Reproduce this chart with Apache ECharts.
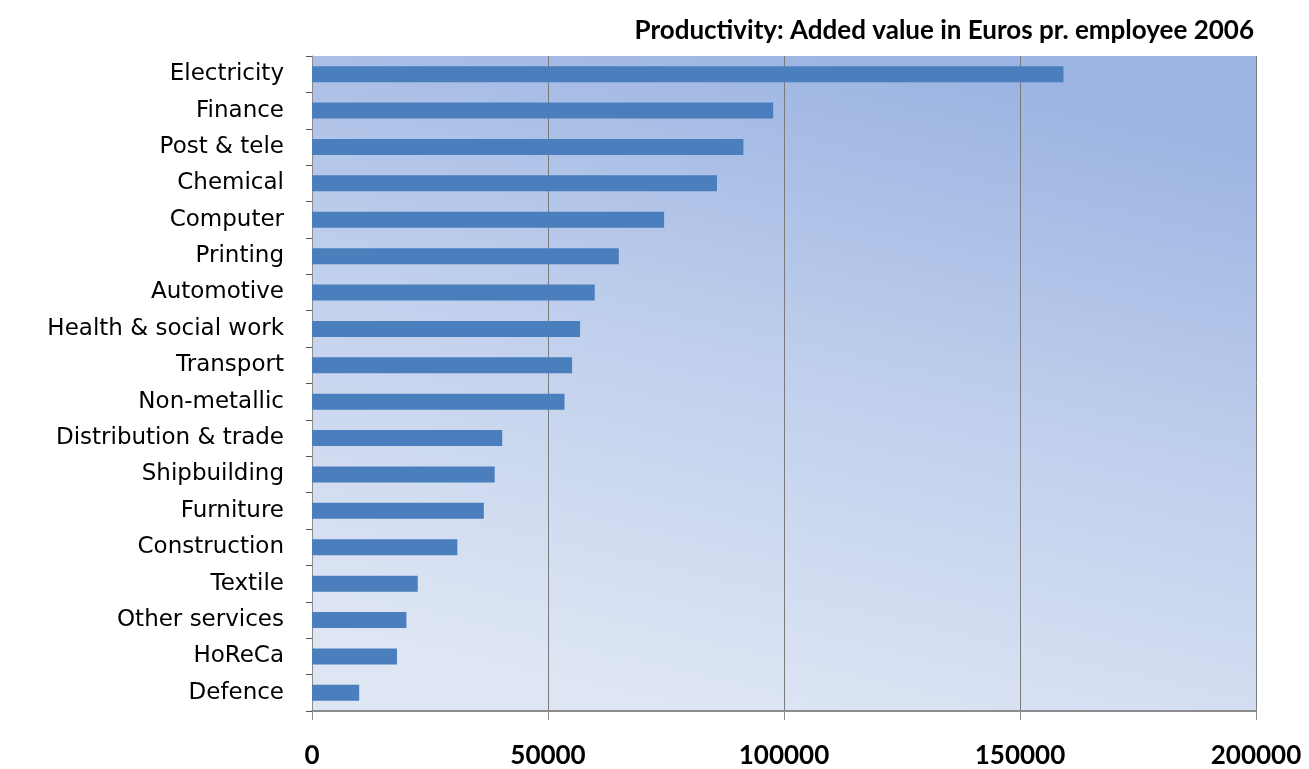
<!DOCTYPE html>
<html>
<head>
<meta charset="utf-8">
<title>Productivity 2006</title>
<script src="https://cdn.jsdelivr.net/npm/echarts@6/dist/echarts.min.js"></script>
<style>
  html, body { margin: 0; padding: 0; background: #ffffff; }
  #chart { width: 1309px; height: 769px; }
</style>
</head>
<body>
<div id="chart"></div>
<script>
// Sectors, top to bottom
const sectors = [
  'Electricity', 'Finance', 'Post & tele', 'Chemical', 'Computer', 'Printing',
  'Automotive', 'Health & social work', 'Transport', 'Non-metallic',
  'Distribution & trade', 'Shipbuilding', 'Furniture', 'Construction',
  'Textile', 'Other services', 'HoReCa', 'Defence'
];

// Added value in euros per employee, 2006
const addedValue = [
  159200, 97700, 91400, 85800, 74600, 65000,
  59900, 56800, 55100, 53500,
  40300, 38700, 36400, 30800,
  22400, 20000, 18000, 10000
];

// Value axis ticks
const axisMin = 0;
const axisMax = 200000;
const axisStep = 50000;

const chart = echarts.init(document.getElementById('chart'), null, { renderer: 'canvas' });

chart.setOption({
  animation: false,
  title: {
    text: 'Productivity: Added value in Euros pr. employee 2006',
    right: 50,
    top: 13,
    textStyle: {
      fontFamily: 'Lato',
      fontWeight: 'bold',
      fontSize: 26,
      color: '#000000'
    }
  },
  grid: {
    left: 312,
    right: 53,
    top: 56,
    bottom: 56,
    show: true,
    borderWidth: 0,
    backgroundColor: new echarts.graphic.LinearGradient(0.42, 1, 0.58, 0, [
      { offset: 0, color: '#dee6f4' },
      { offset: 0.5, color: '#c1d0ed' },
      { offset: 1, color: '#9db5e2' }
    ])
  },
  xAxis: {
    type: 'value',
    min: axisMin,
    max: axisMax,
    interval: axisStep,
    axisLine: { show: true, lineStyle: { color: '#8c8c8c', width: 2 } },
    axisTick: { show: true, length: 9, lineStyle: { color: '#8c8c8c', width: 1 } },
    splitLine: { show: true, lineStyle: { color: '#7a7a7a', width: 1 } },
    axisLabel: {
      margin: 32,
      formatter: (v) => String(v),
      fontFamily: 'Lato',
      fontWeight: 'bold',
      fontSize: 26,
      color: '#000000'
    }
  },
  yAxis: {
    type: 'category',
    data: sectors,
    inverse: true,
    axisLine: { show: true, lineStyle: { color: '#8c8c8c', width: 1 } },
    axisTick: { show: true, length: 6, lineStyle: { color: '#555555' } },
    axisLabel: {
      margin: 28,
      fontFamily: 'DejaVu Sans',
      fontSize: 23,
      color: '#000000'
    }
  },
  series: [{
    type: 'bar',
    data: addedValue,
    barWidth: '44%',
    itemStyle: { color: '#4a7ebd' }
  }]
});
</script>
</body>
</html>
